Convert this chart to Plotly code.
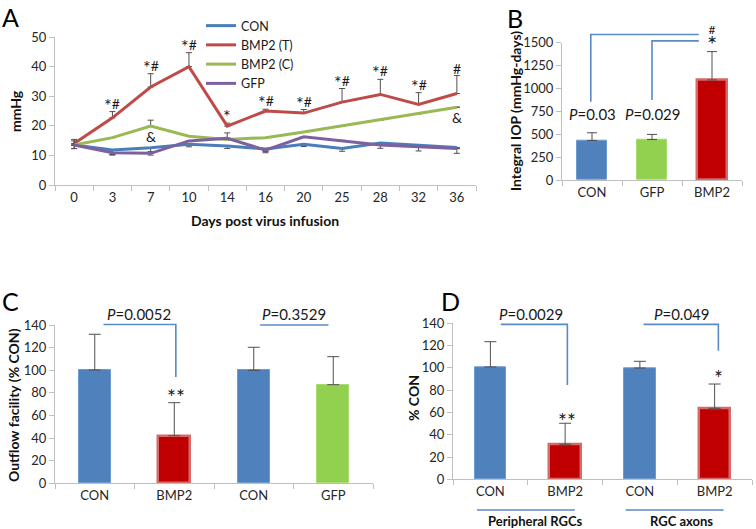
import plotly.graph_objects as go

# ---------------- data ----------------
days = ["0", "3", "7", "10", "14", "16", "20", "25", "28", "32", "36"]
con = [13.5, 11.8, 12.6, 13.8, 13.2, 12.2, 13.8, 12.3, 14.2, 13.5, 12.7]
con_err_lo = [1.2, 1.5, 1.3, 0.9, 0.9, 0.9, 0.8, 0.9, 1.8, 2.0, 2.0]
bmp2_t = [14.0, 22.7, 33.1, 40.0, 19.9, 25.0, 24.3, 28.0, 30.6, 27.2, 30.9]
bmp2_t_err = [1.4, 2.1, 4.5, 4.7, 1.0, 0.6, 1.2, 4.6, 5.1, 4.0, 6.1]
bmp2_c = [13.5, 16.0, 19.9, 16.5, 15.4, 16.0, 17.9, 20.0, 22.0, 24.1, 26.3]
bmp2_c_err = [0, 0, 2.0, 0, 0, 0, 0, 0, 0, 0, 0]
gfp = [13.5, 10.9, 10.7, 14.9, 15.8, 11.8, 16.3, 14.9, 13.5, 12.9, 12.3]
gfp_err_hi = [1.4, 0, 0, 0, 1.8, 0, 0, 0.2, 0, 0, 0]
gfp_err_lo = [1.2, 0.8, 0.6, 0, 0, 0.9, 0, 0, 0, 0, 0]
red_marks = ["", "*#", "*#", "*#", "*", "*#", "*#", "*#", "*#", "*#", "#"]
green_marks = ["", "", "&", "", "", "", "", "", "", "", "&"]

b_groups = ["CON", "GFP", "BMP2"]
b_values = [432, 442, 1093]
b_err = [84, 56, 310]
b_pvals = ["<i>P</i>=0.03", "<i>P</i>=0.029"]

c_groups = ["CON", "BMP2", "CON", "GFP"]
c_values = [100.2, 42.1, 99.9, 87.2]
c_err = [31.6, 29.2, 20.4, 24.8]
c_pvals = ["<i>P</i>=0.0052", "<i>P</i>=0.3529"]

d_groups = ["CON", "BMP2", "CON", "BMP2"]
d_values = [100.8, 31.4, 99.8, 63.7]
d_err = [22.7, 18.9, 6.1, 21.8]
d_pvals = ["<i>P</i>=0.0029", "<i>P</i>=0.049"]
d_supergroups = ["Peripheral RGCs", "RGC axons"]

# ---------------- styling ----------------
W, H = 756, 529
FONT = "Lato"
TXT = "#262626"
AXC = "#bfbfbf"
BLUE_L, RED_L, GREEN_L, PURPLE_L = "#4A7EBB", "#BE4B48", "#98B954", "#7D60A0"
BLUE_B, RED_B, GREEN_B = "#4F81BD", "#C00000", "#92D050"
BRK = "#5A8AC6"
ERR = "#505050"
MARK = "#1a1a1a"


def px(x):
    return x / W


def py(y):
    return 1 - y / H


PANELS = {
    "A": dict(xd=[px(55), px(476)], yd=[py(185), py(37)], xr=[-0.5, 10.5], yr=[0, 50]),
    "B": dict(xd=[px(562), px(742)], yd=[py(180), py(42.7)], xr=[-0.5, 2.5], yr=[0, 1500]),
    "C": dict(xd=[px(55), px(373)], yd=[py(483.3), py(325)], xr=[-0.5, 3.5], yr=[0, 140]),
    "D": dict(xd=[px(453), px(752)], yd=[py(479.3), py(323.3)], xr=[-0.5, 3.5], yr=[0, 140]),
}


def to_paper(panel, xv, yv):
    p = PANELS[panel]
    fx = (xv - p["xr"][0]) / (p["xr"][1] - p["xr"][0])
    fy = (yv - p["yr"][0]) / (p["yr"][1] - p["yr"][0])
    return (p["xd"][0] + fx * (p["xd"][1] - p["xd"][0]),
            p["yd"][0] + fy * (p["yd"][1] - p["yd"][0]))


fig = go.Figure()
annotations = []


def star_text(t, big):
    # enlarge (and slightly lower) the asterisks so they look like the reference's
    return "".join(f"<span style='font-size:{big}px;baseline-shift:-3px'>*</span>" if ch == "*" else ch
                   for ch in t)


def ann(panel, x, y, text, size=14, yshift=0, color=MARK):
    xp, yp = to_paper(panel, x, y)
    annotations.append(dict(x=xp, y=yp, xref="paper", yref="paper", text=text, showarrow=False,
                            xanchor="center", yanchor="middle", yshift=yshift,
                            font=dict(family=FONT, size=size, color=color)))


# ---------------- panel A ----------------
line_specs = [
    ("CON", con, BLUE_L, dict(type="data", symmetric=False, array=[0] * 11, arrayminus=con_err_lo)),
    ("BMP2 (T)", bmp2_t, RED_L, dict(type="data", symmetric=False, array=bmp2_t_err, arrayminus=[0] * 11)),
    ("BMP2 (C)", bmp2_c, GREEN_L, dict(type="data", symmetric=False, array=bmp2_c_err, arrayminus=[0] * 11)),
    ("GFP", gfp, PURPLE_L, dict(type="data", symmetric=False, array=gfp_err_hi, arrayminus=gfp_err_lo)),
]
for name, vals, col, err in line_specs:
    err.update(color=ERR, thickness=1, width=3)
    fig.add_trace(go.Scatter(x=days, y=vals, name=name, mode="lines",
                             line=dict(color=col, width=3), error_y=err,
                             xaxis="x", yaxis="y"))

for i, (v, e, t) in enumerate(zip(bmp2_t, bmp2_t_err, red_marks)):
    if t:
        ann("A", i, v + e, star_text(t, 18), 14, yshift=7)
for i, (v, t) in enumerate(zip(bmp2_c, green_marks)):
    if t:
        ann("A", i, v, t, 14, yshift=-10)

# ---------------- bar panels ----------------
def bar_colors(groups):
    m = {"CON": (BLUE_B, "#6E9BD0", 1), "GFP": (GREEN_B, "#A8DC70", 1), "BMP2": (RED_B, "#D46A6A", 2.5)}
    return [m[g][0] for g in groups], [m[g][1] for g in groups], [m[g][2] for g in groups]


fc, lc, lw = bar_colors(b_groups)
fig.add_trace(go.Bar(x=b_groups, y=b_values, width=0.5, showlegend=False,
                     marker=dict(color=fc, line=dict(color=lc, width=lw)),
                     error_y=dict(type="data", symmetric=False, array=b_err, arrayminus=[0] * 3,
                                  color=ERR, thickness=1, width=5),
                     xaxis="x2", yaxis="y2"))

fc, lc, lw = bar_colors(c_groups)
fig.add_trace(go.Bar(x=list(range(len(c_groups))), y=c_values, width=0.4, showlegend=False,
                     marker=dict(color=fc, line=dict(color=lc, width=lw)),
                     error_y=dict(type="data", symmetric=False, array=c_err, arrayminus=[0] * 4,
                                  color=ERR, thickness=1, width=6),
                     xaxis="x3", yaxis="y3"))

fc, lc, lw = bar_colors(d_groups)
fig.add_trace(go.Bar(x=list(range(len(d_groups))), y=d_values, width=0.42, showlegend=False,
                     marker=dict(color=fc, line=dict(color=lc, width=lw)),
                     error_y=dict(type="data", symmetric=False, array=d_err, arrayminus=[0] * 4,
                                  color=ERR, thickness=1, width=6),
                     xaxis="x4", yaxis="y4"))

# ---------------- brackets (decorations) ----------------
brackets = {
    "B": [[(-0.02, 855), (-0.02, 1590), (1.78, 1590)], [(1.0, 875), (1.0, 1520), (1.78, 1520)]],
    "C": [[(0.11, 140.5), (1.02, 140.5), (1.02, 94)], [(2.08, 140), (2.94, 140)]],
    "D": [[(0.14, 139), (1.03, 139), (1.03, 84.6)], [(2.05, 139), (3.05, 139), (3.05, 115.4)],
          [(-0.18, -27.6), (1.13, -27.6)], [(1.81, -27.6), (3.12, -27.6)]],
}
shapes = []
for panel, lst in brackets.items():
    for pts in lst:
        pp = [to_paper(panel, a, b) for a, b in pts]
        path = "M " + " L ".join(f"{a:.5f},{b:.5f}" for a, b in pp)
        shapes.append(dict(type="path", xref="paper", yref="paper", path=path,
                           line=dict(color=BRK, width=1.6)))

# B texts
ann("B", 0, 717, b_pvals[0], 15)
ann("B", 1, 717, b_pvals[1], 15)
ann("B", 2, 1530, "#<br><span style='font-size:24px;baseline-shift:-3px'>*</span>", 12)
# C texts
ann("C", 0.56, 150, c_pvals[0], 15)
ann("C", 2.5, 150, c_pvals[1], 15)
ann("C", 1.02, 77, star_text("**", 21), 14)
# D texts
ann("D", 0.55, 148, d_pvals[0], 15)
ann("D", 2.56, 148, d_pvals[1], 15)
ann("D", 1.03, 53, star_text("**", 21), 14)
ann("D", 3.05, 91, star_text("*", 21), 14)
ann("D", 0.6, -37.2, "<b>" + d_supergroups[0] + "</b>", 13, color="#111")
ann("D", 2.56, -37.2, "<b>" + d_supergroups[1] + "</b>", 13, color="#111")


# axis titles and panel letters (paper)
def pann(x, y, text, size, angle=0, color="#111", yanchor="middle"):
    annotations.append(dict(x=px(x), y=py(y), xref="paper", yref="paper", text=text,
                            showarrow=False, textangle=angle, xanchor="center", yanchor=yanchor,
                            font=dict(family=FONT, size=size, color=color)))


pann(15, 111, "<b>mmHg</b>", 14, -90)
pann(265, 220, "<b>Days post virus infusion</b>", 14)
pann(515, 111, "<b>Integral IOP (mmHg-days)</b>", 14, -90)
pann(13, 405, "<b>Outflow facility (% CON)</b>", 14, -90)
pann(413, 398, "<b>% CON</b>", 14, -90)
pann(10, 0, "A", 25, color="#000", yanchor="top")
pann(515, 1, "B", 25, color="#000", yanchor="top")
pann(10, 284, "C", 25, color="#000", yanchor="top")
pann(450, 284, "D", 25, color="#000", yanchor="top")

# ---------------- axes ----------------
tickfont = dict(family=FONT, size=13, color=TXT)
common = dict(showgrid=False, zeroline=False, showline=True, linecolor=AXC, linewidth=1,
              ticks="outside", ticklen=5, tickcolor=AXC, tickfont=tickfont, automargin=False,
              fixedrange=True)


def minor_bounds(n):
    return dict(tickmode="array", tickvals=[i - 0.5 for i in range(n + 1)], ticks="outside",
                ticklen=5, tickcolor=AXC, showgrid=False)


layout_axes = dict(
    xaxis=dict(domain=PANELS["A"]["xd"], anchor="y", type="category", tickson="boundaries",
               range=PANELS["A"]["xr"], **common),
    yaxis=dict(domain=PANELS["A"]["yd"], anchor="x", range=PANELS["A"]["yr"], dtick=10, **common),
    xaxis2=dict(domain=PANELS["B"]["xd"], anchor="y2", type="category", tickson="boundaries",
                range=PANELS["B"]["xr"], **common),
    yaxis2=dict(domain=PANELS["B"]["yd"], anchor="x2", range=PANELS["B"]["yr"], dtick=250, **common),
    xaxis3=dict(domain=PANELS["C"]["xd"], anchor="y3", range=PANELS["C"]["xr"],
                tickmode="array", tickvals=list(range(4)), ticktext=c_groups,
                **{**common, "ticks": "", "ticklen": 0}, minor=minor_bounds(4)),
    yaxis3=dict(domain=PANELS["C"]["yd"], anchor="x3", range=PANELS["C"]["yr"], dtick=20, **common),
    xaxis4=dict(domain=PANELS["D"]["xd"], anchor="y4", range=PANELS["D"]["xr"],
                tickmode="array", tickvals=list(range(4)), ticktext=d_groups,
                **{**common, "ticks": "", "ticklen": 0}, minor=minor_bounds(4)),
    yaxis4=dict(domain=PANELS["D"]["yd"], anchor="x4", range=PANELS["D"]["yr"], dtick=20, **common),
)

fig.update_layout(
    width=W, height=H, autosize=False,
    margin=dict(l=0, r=0, t=0, b=0),
    paper_bgcolor="white", plot_bgcolor="white",
    font=dict(family=FONT, size=13, color=TXT),
    showlegend=True,
    legend=dict(x=px(201), y=py(11), xanchor="left", yanchor="top", bgcolor="rgba(0,0,0,0)",
                font=dict(family=FONT, size=12.5, color="#1a1a1a"), tracegroupgap=0),
    shapes=shapes, annotations=annotations, bargap=0,
    **layout_axes,
)

fig.write_html("out.html", config={"displayModeBar": False},
               post_script="document.body.style.margin='0px';")
